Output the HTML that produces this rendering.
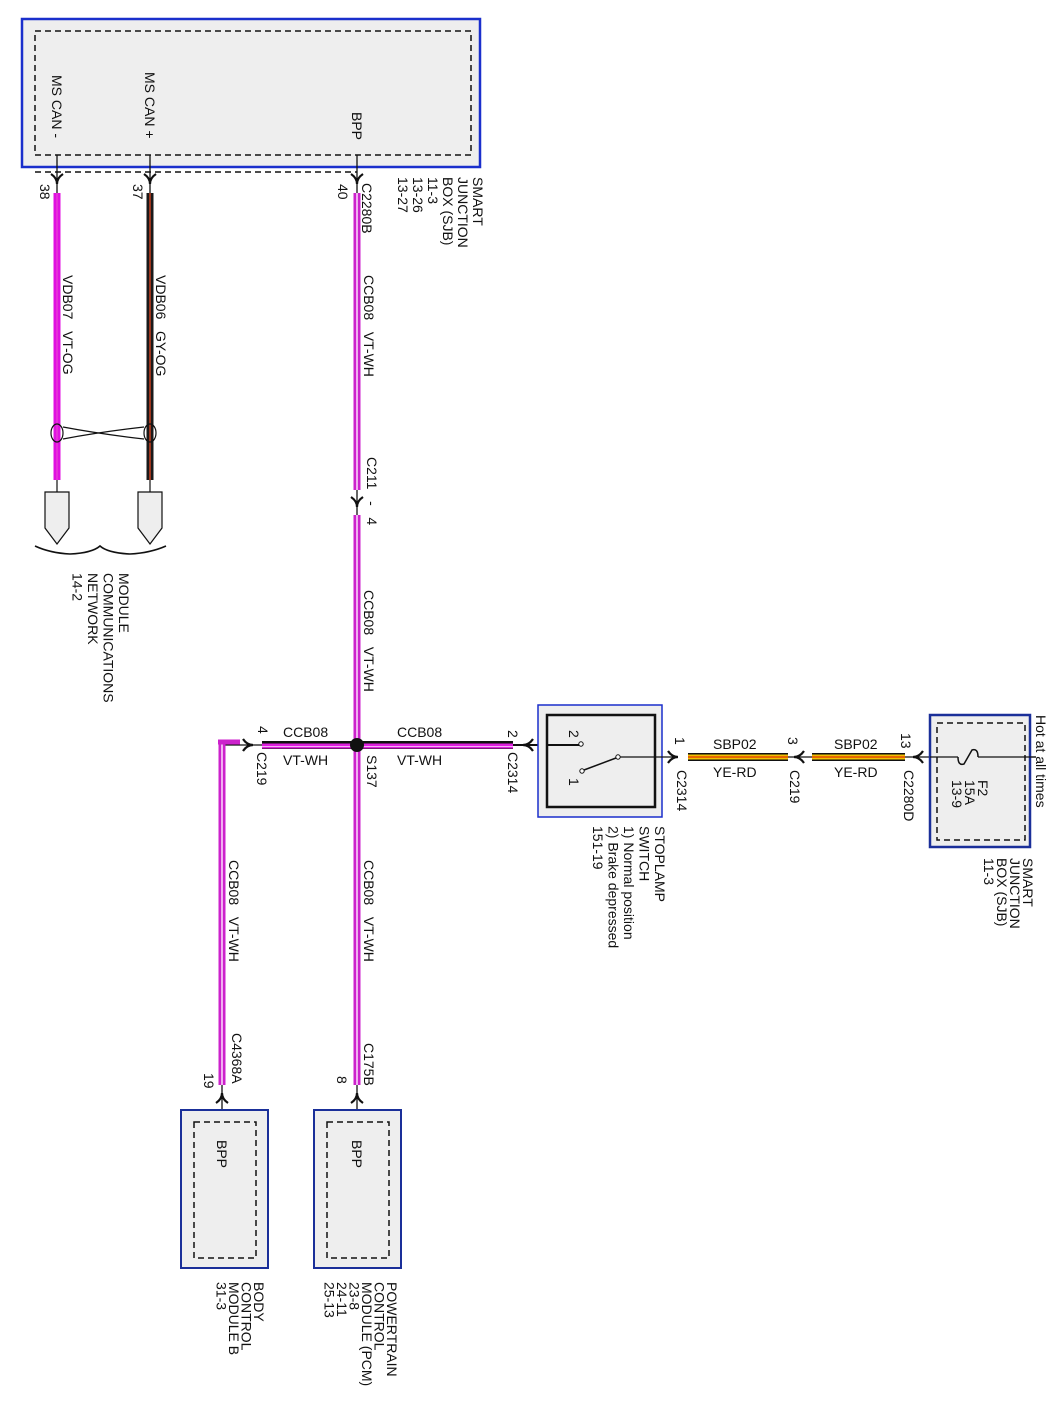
<!DOCTYPE html>
<html><head><meta charset="utf-8"><style>
html,body{margin:0;padding:0;background:#fff;}
svg{display:block;font-family:"Liberation Sans",Arial,sans-serif;}
text{font-size:14px;fill:#111;white-space:pre;}
</style></head><body>
<svg width="1063" height="1409" viewBox="0 0 1063 1409" xmlns="http://www.w3.org/2000/svg" xml:space="preserve">

<!-- TOP SJB BOX -->
<rect x="22" y="19" width="458" height="148" fill="#eeeeee" stroke="#1a2fcc" stroke-width="2.5"/>
<rect x="35" y="31" width="436" height="124" fill="none" stroke="#111" stroke-width="1.5" stroke-dasharray="6,4"/>
<line x1="35" y1="172" x2="357" y2="172" stroke="#111" stroke-width="1.5" stroke-dasharray="6,4"/>
<text transform="translate(52,75) rotate(90)">MS CAN -</text>
<text transform="translate(145,72) rotate(90)">MS CAN +</text>
<text transform="translate(352,112) rotate(90)">BPP</text>

<g stroke="#111" stroke-width="1.3">
<line x1="57" y1="155" x2="57" y2="193"/>
<line x1="150" y1="155" x2="150" y2="193"/>
<line x1="357" y1="155" x2="357" y2="193"/>
</g>
<g fill="none" stroke="#111" stroke-width="2.2">
<path d="M51,174 Q57,178 57,184 Q57,178 63,174"/>
<path d="M144,174 Q150,178 150,184 Q150,178 156,174"/>
<path d="M351,174 Q357,178 357,184 Q357,178 363,174"/>
</g>
<text transform="translate(40,184) rotate(90)">38</text>
<text transform="translate(133,184) rotate(90)">37</text>
<text transform="translate(338,184) rotate(90)">40</text>
<text transform="translate(362,183) rotate(90)">C2280B</text>
<text transform="translate(473,177) rotate(90)"><tspan x="0" dy="0">SMART</tspan><tspan x="0" dy="15">JUNCTION</tspan><tspan x="0" dy="15">BOX (SJB)</tspan><tspan x="0" dy="15">11-3</tspan><tspan x="0" dy="15">13-26</tspan><tspan x="0" dy="15">13-27</tspan></text>

<!-- MS CAN wires -->
<line x1="57" y1="193" x2="57" y2="480" stroke="#e010e0" stroke-width="7"/>
<line x1="57" y1="193" x2="57" y2="480" stroke="#ea50d0" stroke-width="1"/>
<line x1="150" y1="193" x2="150" y2="480" stroke="#1a1a1a" stroke-width="7"/>
<line x1="150" y1="193" x2="150" y2="480" stroke="#c84020" stroke-width="1.5"/>
<text transform="translate(63,275) rotate(90)">VDB07   VT-OG</text>
<text transform="translate(156,275) rotate(90)">VDB06   GY-OG</text>
<g fill="none" stroke="#111" stroke-width="1.2">
<ellipse cx="57" cy="433" rx="6" ry="9"/>
<ellipse cx="150" cy="433" rx="6" ry="9"/>
<path d="M63,427 Q100,434 144,439"/>
<path d="M63,439 Q100,432 144,427"/>
</g>
<g stroke="#111" stroke-width="1.2">
<line x1="57" y1="480" x2="57" y2="492"/>
<line x1="150" y1="480" x2="150" y2="492"/>
</g>
<g fill="#eeeeee" stroke="#111" stroke-width="1.2">
<path d="M45,492 H69 V528 L57,544 L45,528 Z"/>
<path d="M138,492 H162 V528 L150,544 L138,528 Z"/>
</g>
<path d="M35,546 Q50,553 70,554 Q92,553 100,546 Q108,553 130,554 Q150,553 166,546" fill="none" stroke="#111" stroke-width="1.6"/>
<text transform="translate(119,573) rotate(90)"><tspan x="0" dy="0">MODULE</tspan><tspan x="0" dy="15.5">COMMUNICATIONS</tspan><tspan x="0" dy="15.5">NETWORK</tspan><tspan x="0" dy="15.5">14-2</tspan></text>

<!-- BPP wire -->
<line x1="357" y1="193" x2="357" y2="490" stroke="#cc22cc" stroke-width="7"/>
<line x1="357" y1="193" x2="357" y2="490" stroke="#f0b0f0" stroke-width="2"/>
<line x1="357" y1="515" x2="357" y2="1085" stroke="#cc22cc" stroke-width="7"/>
<line x1="357" y1="515" x2="357" y2="1085" stroke="#f0b0f0" stroke-width="2"/>
<line x1="357" y1="490" x2="357" y2="515" stroke="#111" stroke-width="1.3"/>
<path d="M351,497 Q357,501 357,507 Q357,501 363,497" fill="none" stroke="#111" stroke-width="2.2"/>
<text transform="translate(364,275) rotate(90)">CCB08   VT-WH</text>
<text transform="translate(367,457) rotate(90)">C211   -   4</text>
<text transform="translate(364,590) rotate(90)">CCB08   VT-WH</text>
<text transform="translate(367,755) rotate(90)">S137</text>
<text transform="translate(364,860) rotate(90)">CCB08   VT-WH</text>

<!-- Horizontal VT-WH wires -->
<line x1="262" y1="745" x2="513" y2="745" stroke="#111" stroke-width="8"/>
<line x1="262" y1="746" x2="513" y2="746" stroke="#e020e0" stroke-width="5"/>
<line x1="262" y1="746.5" x2="513" y2="746.5" stroke="#f4b0f4" stroke-width="1"/>
<circle cx="357" cy="745" r="7" fill="#111"/>
<text x="283" y="737">CCB08</text>
<text x="283" y="765">VT-WH</text>
<text x="397" y="737">CCB08</text>
<text x="397" y="765">VT-WH</text>
<text transform="translate(258,726) rotate(90)">4</text>
<text transform="translate(257,752) rotate(90)">C219</text>
<text transform="translate(508,730) rotate(90)">2</text>
<text transform="translate(508,752) rotate(90)">C2314</text>

<!-- left BCM branch -->
<line x1="222" y1="745" x2="262" y2="745" stroke="#111" stroke-width="1.3"/>
<path d="M243,739 Q247,745 253,745 Q247,745 243,751" fill="none" stroke="#111" stroke-width="2.2"/>
<path d="M222,741 V1085" stroke="#cc22cc" stroke-width="7" fill="none"/>
<path d="M222,741 V1085" stroke="#f0b0f0" stroke-width="2" fill="none"/>
<path d="M218,742 H240" stroke="#cc22cc" stroke-width="5"/>
<text transform="translate(229,860) rotate(90)">CCB08   VT-WH</text>
<text transform="translate(232,1033) rotate(90)">C4368A</text>
<text transform="translate(204,1073) rotate(90)">19</text>
<text transform="translate(364,1043) rotate(90)">C175B</text>
<text transform="translate(337,1076) rotate(90)">8</text>

<g stroke="#111" stroke-width="1.3">
<line x1="222" y1="1085" x2="222" y2="1122"/>
<line x1="357" y1="1085" x2="357" y2="1122"/>
</g>
<g fill="none" stroke="#111" stroke-width="2.2">
<path d="M216,1103 Q222,1099 222,1093 Q222,1099 228,1103"/>
<path d="M351,1103 Q357,1099 357,1093 Q357,1099 363,1103"/>
</g>

<!-- BCM box -->
<rect x="181" y="1110" width="87" height="158" fill="#eeeeee" stroke="#1a2f99" stroke-width="2"/>
<rect x="194" y="1122" width="62" height="136" fill="none" stroke="#111" stroke-width="1.5" stroke-dasharray="6,4"/>
<text transform="translate(217,1140) rotate(90)">BPP</text>
<text transform="translate(254,1282) rotate(90)"><tspan x="0" dy="0">BODY</tspan><tspan x="0" dy="12.5">CONTROL</tspan><tspan x="0" dy="12.5">MODULE B</tspan><tspan x="0" dy="12.5">31-3</tspan></text>
<!-- PCM box -->
<rect x="314" y="1110" width="87" height="158" fill="#eeeeee" stroke="#1a2f99" stroke-width="2"/>
<rect x="327" y="1122" width="62" height="136" fill="none" stroke="#111" stroke-width="1.5" stroke-dasharray="6,4"/>
<text transform="translate(352,1140) rotate(90)">BPP</text>
<text transform="translate(387,1282) rotate(90)"><tspan x="0" dy="0">POWERTRAIN</tspan><tspan x="0" dy="12.5">CONTROL</tspan><tspan x="0" dy="12.5">MODULE (PCM)</tspan><tspan x="0" dy="12.5">23-8</tspan><tspan x="0" dy="12.5">24-11</tspan><tspan x="0" dy="12.5">25-13</tspan></text>

<!-- switch -->
<line x1="513" y1="745" x2="581" y2="745" stroke="#111" stroke-width="2"/>
<path d="M533,739 Q529,745 523,745 Q529,745 533,751" fill="none" stroke="#111" stroke-width="2.2"/>
<rect x="538" y="705" width="124" height="112" fill="#eeeeee" stroke="#1a2fcc" stroke-width="1.5"/>
<rect x="547" y="715" width="108" height="92" fill="none" stroke="#111" stroke-width="2.5"/>
<line x1="547" y1="745" x2="581" y2="745" stroke="#111" stroke-width="2"/>
<circle cx="581" cy="744" r="2.2" fill="#fff" stroke="#111" stroke-width="1"/>
<circle cx="618" cy="757" r="2.2" fill="#fff" stroke="#111" stroke-width="1"/>
<circle cx="582" cy="771" r="2.2" fill="#fff" stroke="#111" stroke-width="1"/>
<line x1="616" y1="758" x2="584" y2="770" stroke="#111" stroke-width="1.5"/>
<line x1="620" y1="757" x2="678" y2="757" stroke="#111" stroke-width="1.2"/>
<text transform="translate(569,730) rotate(90)">2</text>
<text transform="translate(569,778) rotate(90)">1</text>
<text transform="translate(655,826) rotate(90)"><tspan x="0" dy="0">STOPLAMP</tspan><tspan x="0" dy="15.5">SWITCH</tspan><tspan x="0" dy="15.5">1) Normal position</tspan><tspan x="0" dy="15.5">2) Brake depressed</tspan><tspan x="0" dy="15.5">151-19</tspan></text>

<!-- YE-RD wires -->
<path d="M668,751 Q672,757 678,757 Q672,757 668,763" fill="none" stroke="#111" stroke-width="2.2"/>
<text transform="translate(675,737) rotate(90)">1</text>
<text transform="translate(677,770) rotate(90)">C2314</text>
<line x1="688" y1="757" x2="788" y2="757" stroke="#111" stroke-width="8"/>
<line x1="688" y1="757" x2="788" y2="757" stroke="#f0c000" stroke-width="5"/>
<line x1="688" y1="757" x2="788" y2="757" stroke="#e03000" stroke-width="1.2"/>
<text x="713" y="749">SBP02</text>
<text x="713" y="777">YE-RD</text>
<line x1="788" y1="757" x2="812" y2="757" stroke="#111" stroke-width="1.2"/>
<path d="M804,751 Q800,757 794,757 Q800,757 804,763" fill="none" stroke="#111" stroke-width="2.2"/>
<text transform="translate(788,737) rotate(90)">3</text>
<text transform="translate(790,770) rotate(90)">C219</text>
<line x1="812" y1="757" x2="905" y2="757" stroke="#111" stroke-width="8"/>
<line x1="812" y1="757" x2="905" y2="757" stroke="#f0c000" stroke-width="5"/>
<line x1="812" y1="757" x2="905" y2="757" stroke="#e03000" stroke-width="1.2"/>
<text x="834" y="749">SBP02</text>
<text x="834" y="777">YE-RD</text>
<line x1="905" y1="757" x2="1036" y2="757" stroke="#111" stroke-width="1.2"/>
<path d="M923,751 Q919,757 913,757 Q919,757 923,763" fill="none" stroke="#111" stroke-width="2.2"/>
<text transform="translate(901,733) rotate(90)">13</text>
<text transform="translate(904,770) rotate(90)">C2280D</text>

<!-- right SJB -->
<rect x="930" y="715" width="100" height="132" fill="#eeeeee" stroke="#1a2f99" stroke-width="2.5"/>
<rect x="937" y="723" width="88" height="117" fill="none" stroke="#111" stroke-width="1.5" stroke-dasharray="6,4"/>
<line x1="930" y1="757" x2="958" y2="757" stroke="#111" stroke-width="1.2"/>
<line x1="978" y1="757" x2="1036" y2="757" stroke="#111" stroke-width="1.2"/>
<path d="M958,757 Q958,766 964,764 Q968,757 972,750 Q978,748 978,757" fill="none" stroke="#111" stroke-width="1.5"/>
<text transform="translate(978,780) rotate(90)"><tspan x="0" dy="0">F2</tspan><tspan x="0" dy="13">15A</tspan><tspan x="0" dy="13">13-9</tspan></text>
<text transform="translate(1036,715) rotate(90)">Hot at all times</text>
<text transform="translate(1023,858) rotate(90)"><tspan x="0" dy="0">SMART</tspan><tspan x="0" dy="13">JUNCTION</tspan><tspan x="0" dy="13">BOX (SJB)</tspan><tspan x="0" dy="13">11-3</tspan></text>
</svg>
</body></html>
